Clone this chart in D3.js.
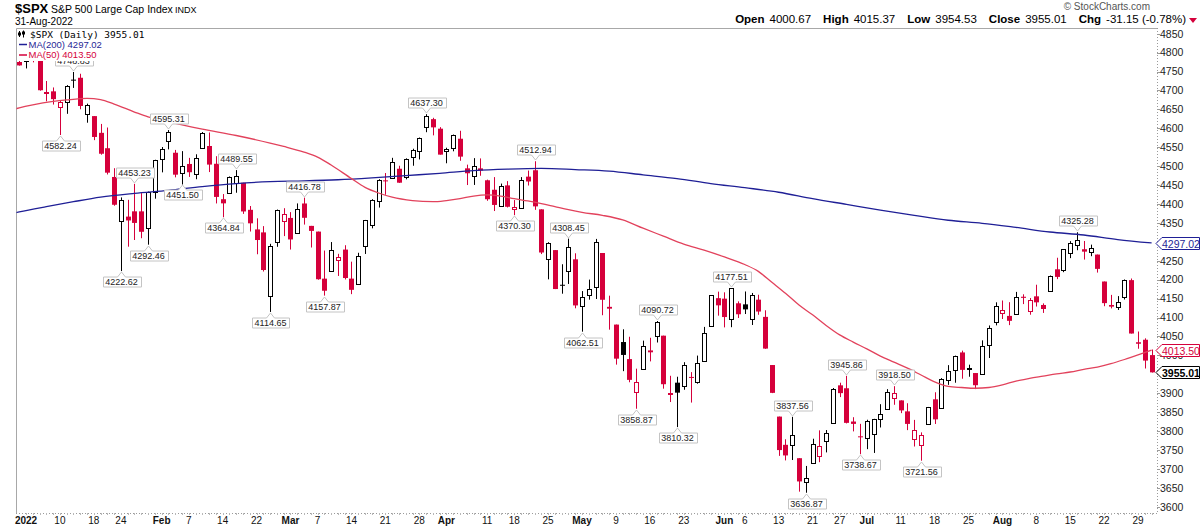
<!DOCTYPE html>
<html>
<head>
<meta charset="utf-8">
<script src="https://cdn.jsdelivr.net/npm/d3@7"></script>
<style>
  body { margin: 0; background: #fff; }
  svg text { font-family: Arial, "Liberation Sans", sans-serif; }
</style>
</head>
<body>
<div id="chart1"></div>
<script>
// trading days, Dec 30 2021 .. Aug 31 2022
const dates = [
  "2021-12-30","2021-12-31",
  "2022-01-03","2022-01-04","2022-01-05","2022-01-06","2022-01-07","2022-01-10","2022-01-11","2022-01-12","2022-01-13","2022-01-14",
  "2022-01-18","2022-01-19","2022-01-20","2022-01-21","2022-01-24","2022-01-25","2022-01-26","2022-01-27","2022-01-28","2022-01-31",
  "2022-02-01","2022-02-02","2022-02-03","2022-02-04","2022-02-07","2022-02-08","2022-02-09","2022-02-10","2022-02-11","2022-02-14",
  "2022-02-15","2022-02-16","2022-02-17","2022-02-18","2022-02-22","2022-02-23","2022-02-24","2022-02-25","2022-02-28",
  "2022-03-01","2022-03-02","2022-03-03","2022-03-04","2022-03-07","2022-03-08","2022-03-09","2022-03-10","2022-03-11","2022-03-14",
  "2022-03-15","2022-03-16","2022-03-17","2022-03-18","2022-03-21","2022-03-22","2022-03-23","2022-03-24","2022-03-25","2022-03-28",
  "2022-03-29","2022-03-30","2022-03-31",
  "2022-04-01","2022-04-04","2022-04-05","2022-04-06","2022-04-07","2022-04-08","2022-04-11","2022-04-12","2022-04-13","2022-04-14",
  "2022-04-18","2022-04-19","2022-04-20","2022-04-21","2022-04-22","2022-04-25","2022-04-26","2022-04-27","2022-04-28","2022-04-29",
  "2022-05-02","2022-05-03","2022-05-04","2022-05-05","2022-05-06","2022-05-09","2022-05-10","2022-05-11","2022-05-12","2022-05-13",
  "2022-05-16","2022-05-17","2022-05-18","2022-05-19","2022-05-20","2022-05-23","2022-05-24","2022-05-25","2022-05-26","2022-05-27",
  "2022-05-31",
  "2022-06-01","2022-06-02","2022-06-03","2022-06-06","2022-06-07","2022-06-08","2022-06-09","2022-06-10","2022-06-13","2022-06-14",
  "2022-06-15","2022-06-16","2022-06-17","2022-06-21","2022-06-22","2022-06-23","2022-06-24","2022-06-27","2022-06-28","2022-06-29",
  "2022-06-30",
  "2022-07-01","2022-07-05","2022-07-06","2022-07-07","2022-07-08","2022-07-11","2022-07-12","2022-07-13","2022-07-14","2022-07-15",
  "2022-07-18","2022-07-19","2022-07-20","2022-07-21","2022-07-22","2022-07-25","2022-07-26","2022-07-27","2022-07-28","2022-07-29",
  "2022-08-01","2022-08-02","2022-08-03","2022-08-04","2022-08-05","2022-08-08","2022-08-09","2022-08-10","2022-08-11","2022-08-12",
  "2022-08-15","2022-08-16","2022-08-17","2022-08-18","2022-08-19","2022-08-22","2022-08-23","2022-08-24","2022-08-25","2022-08-26",
  "2022-08-29","2022-08-30","2022-08-31"
];

const open = [
  4794.23,4775.21,
  4778.14,4804.51,4787.99,4693.39,4697.66,4655.34,4669.14,4728.59,4733.56,4637.99,
  4632.24,4588.03,4547.35,4471.38,4356.32,4366.64,4380.58,4380.50,4336.19,4431.79,
  4519.57,4566.39,4535.41,4482.79,4505.75,4480.02,4547.00,4553.24,4506.27,4412.61,
  4429.28,4455.75,4456.06,4384.57,4332.74,4324.93,4155.77,4298.38,4354.17,
  4363.14,4322.56,4401.31,4342.12,4327.01,4202.66,4223.10,4252.55,4279.50,4202.75,
  4188.82,4288.14,4345.11,4407.34,4462.40,4469.10,4493.10,4469.98,4522.91,4541.09,
  4602.86,4624.20,4599.02,
  4540.32,4547.97,4572.45,4494.17,4474.65,4494.15,4462.64,4437.59,4394.30,4449.12,
  4385.63,4390.63,4472.26,4489.17,4385.83,4255.34,4278.14,4186.52,4222.58,4253.75,
  4130.61,4159.78,4181.18,4270.43,4128.17,4081.27,4035.18,3990.08,3903.95,3963.90,
  4013.02,4052.00,4051.98,3899.00,3927.76,3919.42,3942.94,3929.59,3984.60,4077.43,
  4151.09,
  4149.78,4095.41,4137.57,4134.72,4096.47,4147.12,4101.65,3974.39,3838.15,3763.52,
  3764.05,3728.18,3665.90,3715.31,3733.89,3774.71,3821.75,3920.76,3913.00,3825.09,
  3785.99,
  3781.00,3792.61,3831.98,3858.85,3888.26,3880.94,3851.95,3779.67,3763.99,3818.00,
  3883.79,3860.73,3935.32,3959.96,4007.66,3965.72,3953.22,3951.43,4026.13,4087.33,
  4112.38,4104.21,4107.96,4154.85,4115.87,4155.93,4133.11,4170.36,4227.40,4225.02,
  4269.37,4290.46,4280.40,4273.13,4266.31,4195.08,4133.09,4126.55,4153.26,4198.74,
  4034.58,4041.25,4000.67
];

const high = [
  4808.93,4786.83,
  4796.64,4818.62,4797.70,4725.01,4707.95,4673.02,4714.13,4748.83,4744.13,4665.13,
  4632.24,4611.55,4602.11,4494.52,4417.35,4411.01,4453.23,4428.74,4432.72,4516.89,
  4550.49,4595.31,4542.88,4539.66,4521.86,4531.32,4590.03,4588.92,4526.33,4426.22,
  4472.77,4489.55,4456.06,4394.60,4362.12,4341.51,4294.73,4385.34,4388.84,
  4378.45,4401.48,4416.78,4342.12,4327.01,4276.94,4299.40,4268.28,4291.01,4247.57,
  4271.05,4357.86,4412.67,4465.40,4481.75,4522.00,4501.07,4520.58,4546.03,4575.65,
  4637.30,4627.77,4603.07,
  4548.70,4583.50,4593.45,4503.94,4521.16,4520.41,4464.35,4471.00,4453.92,4460.46,
  4410.31,4471.03,4488.29,4512.94,4385.83,4299.02,4278.14,4240.71,4308.45,4269.68,
  4169.81,4200.10,4307.66,4270.43,4157.69,4081.27,4068.82,4049.09,3964.80,4038.88,
  4046.46,4090.72,4051.98,3945.96,3943.42,3981.88,3955.68,3999.33,4075.14,4158.49,
  4168.34,
  4166.54,4177.51,4142.67,4168.78,4164.86,4160.14,4119.10,3974.39,3838.15,3778.18,
  3837.56,3728.18,3707.71,3779.65,3801.79,3802.58,3913.65,3927.72,3945.86,3836.50,
  3818.99,
  3829.82,3832.19,3870.91,3910.63,3918.50,3880.94,3873.41,3829.44,3796.41,3863.62,
  3902.44,3939.81,3974.13,3999.29,4012.44,3975.30,3953.22,4039.56,4078.95,4140.15,
  4144.95,4140.47,4167.66,4161.29,4151.58,4186.62,4137.30,4211.03,4257.91,4280.47,
  4301.79,4325.28,4302.18,4292.53,4266.31,4195.08,4159.77,4156.56,4200.54,4203.04,
  4062.99,4044.98,4015.37
];

const low = [
  4775.33,4765.75,
  4758.17,4774.27,4699.44,4671.26,4662.74,4582.24,4638.27,4706.71,4650.29,4614.75,
  4568.70,4530.20,4477.95,4395.34,4222.62,4287.11,4304.80,4309.50,4292.46,4414.02,
  4483.53,4544.32,4470.39,4451.50,4471.47,4465.40,4547.00,4484.31,4401.41,4364.84,
  4429.28,4429.68,4373.81,4327.22,4267.11,4221.51,4114.65,4286.83,4315.12,
  4279.54,4322.56,4345.56,4284.98,4199.85,4157.87,4223.10,4209.80,4200.49,4161.72,
  4187.90,4267.92,4335.65,4390.57,4424.30,4469.10,4455.81,4465.17,4501.07,4517.69,
  4589.66,4581.32,4530.41,
  4507.57,4539.21,4514.17,4450.04,4450.30,4474.60,4408.38,4381.34,4392.70,4390.77,
  4370.30,4390.63,4448.76,4384.47,4267.62,4200.82,4175.04,4162.90,4188.63,4124.28,
  4062.51,4147.08,4148.91,4106.01,4067.91,3975.48,3958.17,3928.82,3858.87,3963.90,
  3983.99,4033.93,3911.91,3876.58,3810.32,3909.04,3875.13,3925.03,3984.60,4077.43,
  4104.88,
  4073.85,4074.37,4098.67,4109.18,4080.19,4107.20,4017.17,3900.16,3734.30,3722.30,
  3723.34,3639.77,3636.87,3715.31,3717.69,3743.52,3821.75,3889.66,3820.14,3799.02,
  3738.67,
  3752.10,3742.06,3809.37,3858.85,3869.34,3847.22,3802.36,3759.07,3721.56,3817.18,
  3818.63,3860.73,3922.03,3927.64,3938.24,3943.46,3910.74,3951.43,3992.97,4079.22,
  4096.02,4079.81,4107.96,4135.42,4107.31,4128.97,4112.09,4167.89,4201.41,4219.78,
  4256.90,4277.77,4253.08,4261.98,4218.70,4129.86,4124.03,4119.97,4147.59,4057.66,
  4017.42,3965.21,3954.53
];

const close = [
  4778.73,4766.18,
  4796.56,4793.54,4700.58,4696.05,4677.03,4670.29,4713.07,4726.35,4659.03,4662.85,
  4577.11,4532.76,4482.73,4397.94,4410.13,4356.45,4349.93,4326.51,4431.85,4515.55,
  4546.54,4589.38,4477.44,4500.53,4483.87,4521.54,4587.18,4504.08,4418.64,4401.67,
  4471.07,4475.01,4380.26,4348.87,4304.76,4225.50,4288.70,4384.65,4373.94,
  4306.26,4386.54,4363.49,4328.87,4201.09,4170.70,4277.88,4259.52,4204.31,4173.11,
  4262.45,4357.86,4411.67,4463.12,4461.18,4511.61,4456.24,4520.16,4543.06,4575.52,
  4631.60,4602.45,4530.41,
  4545.86,4582.64,4525.12,4481.15,4500.21,4488.28,4412.53,4397.45,4446.59,4392.59,
  4391.69,4462.21,4459.45,4393.66,4271.78,4296.12,4175.20,4183.96,4287.50,4131.93,
  4155.38,4175.48,4300.17,4146.87,4123.34,3991.24,4001.05,3935.18,3930.08,4023.89,
  4008.01,4088.85,3923.68,3900.79,3901.36,3973.75,3941.48,3978.73,4057.84,4158.24,
  4132.15,
  4101.23,4176.82,4108.54,4121.43,4160.68,4115.77,4017.82,3900.86,3749.63,3735.48,
  3789.99,3666.77,3674.84,3764.79,3759.89,3795.73,3911.74,3900.11,3821.55,3818.83,
  3785.38,
  3825.33,3831.39,3845.08,3902.62,3899.38,3854.43,3818.80,3801.78,3790.38,3863.16,
  3830.85,3936.69,3959.90,3998.95,3961.63,3966.84,3921.05,4023.61,4072.43,4130.29,
  4118.63,4091.19,4155.17,4151.94,4145.19,4140.06,4122.47,4210.24,4207.27,4280.15,
  4297.14,4305.20,4274.04,4283.74,4228.48,4137.99,4128.73,4140.77,4199.12,4057.66,
  4030.61,3986.16,3955.01
];

// moving averages
const ma50Dates = ["2021-12-30","2021-12-31","2022-01-04","2022-01-07","2022-01-11","2022-01-14","2022-01-19","2022-01-21",
  "2022-01-26","2022-01-28","2022-02-02","2022-02-09","2022-02-16","2022-02-24","2022-02-28","2022-03-03","2022-03-07",
  "2022-03-09","2022-03-14","2022-03-16","2022-03-18","2022-03-22","2022-03-25","2022-03-30","2022-04-01","2022-04-05",
  "2022-04-07","2022-04-11","2022-04-13","2022-04-18","2022-04-20","2022-04-22","2022-04-26","2022-04-28","2022-05-02",
  "2022-05-05","2022-05-10","2022-05-13","2022-05-18","2022-05-23","2022-05-26","2022-06-01","2022-06-06","2022-06-08",
  "2022-06-10","2022-06-14","2022-06-16","2022-06-21","2022-06-23","2022-06-27","2022-06-29","2022-07-01","2022-07-06",
  "2022-07-08","2022-07-12","2022-07-14","2022-07-18","2022-07-20","2022-07-22","2022-07-26","2022-07-28","2022-08-01",
  "2022-08-03","2022-08-05","2022-08-09","2022-08-11","2022-08-15","2022-08-17","2022-08-19","2022-08-23","2022-08-25",
  "2022-08-29","2022-08-31"];
const ma50 = [4649,4654,4662,4671,4675,4679,4676,4664,
  4643,4630,4617,4598,4581,4561,4552,4537,4524,
  4503,4467,4444,4429,4418,4409,4406,4409,4414,
  4421,4424,4421,4414,4408,4401,4393,4385,4378,
  4370,4358,4336,4315,4294,4278,4260,4240,4222,
  4193,4164,4133,4107,4079,4054,4035,4017,3998,
  3982,3966,3948,3930,3918,3915,3913,3915,3922,
  3932,3939,3945,3951,3956,3963,3969,3978,3989,
  4001,4013.50];

const ma200Dates = ["2021-12-30","2021-12-31","2022-01-06","2022-01-12","2022-01-19","2022-01-26","2022-02-02","2022-02-09",
  "2022-02-16","2022-02-24","2022-03-03","2022-03-10","2022-03-17","2022-03-24","2022-03-31","2022-04-07","2022-04-14",
  "2022-04-22","2022-04-29","2022-05-06","2022-05-13","2022-05-20","2022-05-27","2022-06-06","2022-06-13","2022-06-21",
  "2022-06-28","2022-07-06","2022-07-13","2022-07-20","2022-07-27","2022-08-03","2022-08-10","2022-08-17","2022-08-24",
  "2022-08-31"];
const ma200 = [4375,4379,4393,4406,4418,4428,4436,4446,
  4454,4459,4461,4464,4469,4475,4481,4488,4492,
  4494,4491,4487,4477,4467,4454,4443,4431,4414,
  4399,4384,4370,4357,4349,4338,4326,4318,4306,
  4297.02];

const yTicks = [4850,4800,4750,4700,4650,4600,4550,4500,4450,4400,4350,4300,4250,4200,4150,4100,4050,4000,3950,3900,3850,3800,3750,3700,3650,3600];

const xTickDates = ["2022-01-03","2022-01-10","2022-01-18","2022-01-24","2022-02-01","2022-02-07","2022-02-14","2022-02-22",
  "2022-03-01","2022-03-07","2022-03-14","2022-03-21","2022-03-28","2022-04-01","2022-04-11","2022-04-18","2022-04-25",
  "2022-05-02","2022-05-09","2022-05-16","2022-05-23","2022-06-01","2022-06-06","2022-06-13","2022-06-21","2022-06-27",
  "2022-07-01","2022-07-11","2022-07-18","2022-07-25","2022-08-01","2022-08-08","2022-08-15","2022-08-22","2022-08-29"];
const xTickLabels = ["2022","10","18","24","Feb","7","14","22",
  "Mar","7","14","21","28","Apr","11","18","25",
  "May","9","16","23","Jun","6","13","21","27",
  "Jul","11","18","25","Aug","8","15","22","29"];

// annotated swing highs / lows
const noteDates = ["2022-01-10","2022-01-12","2022-01-24","2022-01-26","2022-01-28","2022-02-02","2022-02-04","2022-02-14",
  "2022-02-16","2022-02-24","2022-03-03","2022-03-08","2022-03-29","2022-04-18","2022-04-21","2022-04-28","2022-05-02",
  "2022-05-12","2022-05-17","2022-05-20","2022-06-02","2022-06-15","2022-06-17","2022-06-28","2022-06-30","2022-07-08",
  "2022-07-14","2022-08-16"];
const noteSides = ["L","H","L","H","L","H","L","L",
  "H","L","H","L","H","L","H","H","L",
  "L","H","L","H","H","L","H","L","H",
  "L","H"];

const width = 1200;
const height = 528;
const plot = {left: 16, right: 1157, top: 28, bottom: 513};
const red = "#d5003b";
const blue = "#1f1f96";
const maRed = "#e2425c";

const svg = d3.select("#chart1").append("svg")
    .attr("width", width)
    .attr("height", height);

const x = d3.scalePoint()
    .domain(dates)
    .range([12.44, 1151.6]);

const y = d3.scaleLinear()
    .domain([3600, 4850])
    .range([506.7, 33.7]);

svg.append("defs").append("clipPath")
    .attr("id", "clip")
  .append("rect")
    .attr("x", plot.left + 0.5)
    .attr("y", plot.top + 0.5)
    .attr("width", plot.right - plot.left - 1)
    .attr("height", plot.bottom - plot.top - 0.5);

// frame
svg.append("path")
    .attr("d", `M${plot.left + 0.5},${plot.bottom} V${plot.top + 0.5} H${plot.right}`)
    .attr("fill", "none")
    .attr("stroke", "#a8a8a8");

// last-value tags on the right axis (also used to hide covered tick labels)
const last = dates.length - 1;
const tags = [
  {v: ma200[ma200.length - 1], col: blue, bold: false},
  {v: ma50[ma50.length - 1], col: red, bold: false},
  {v: close[last], col: "#000", bold: true}
];

// right axis: dotted line, ticks, labels
svg.append("line")
    .attr("x1", plot.right + 0.5).attr("x2", plot.right + 0.5)
    .attr("y1", plot.top).attr("y2", plot.bottom)
    .attr("stroke", "#9a9a9a")
    .attr("stroke-dasharray", "1,2");
const yAxis = svg.append("g");
yAxis.selectAll("line").data(yTicks).join("line")
    .attr("x1", plot.right).attr("x2", plot.right + 3)
    .attr("y1", d => Math.round(y(d)) + 0.5).attr("y2", d => Math.round(y(d)) + 0.5)
    .attr("stroke", "#9a9a9a");
yAxis.selectAll("text")
    .data(yTicks.filter(d => !tags.some(tg => Math.abs(y(tg.v) - y(d)) < 4)))
    .join("text")
    .attr("x", plot.right + 3)
    .attr("y", d => y(d) + 3.8)
    .attr("font-size", "10.5px")
    .attr("fill", "#222")
    .text(d => d);

// bottom axis
svg.append("line")
    .attr("x1", plot.left).attr("x2", plot.right)
    .attr("y1", plot.bottom + 0.5).attr("y2", plot.bottom + 0.5)
    .attr("stroke", "#9a9a9a")
    .attr("stroke-dasharray", "1,2");
svg.append("g").selectAll("line").data(dates.slice(2)).join("line")
    .attr("x1", d => Math.round(x(d)) + 0.5).attr("x2", d => Math.round(x(d)) + 0.5)
    .attr("y1", plot.bottom).attr("y2", plot.bottom + 2)
    .attr("stroke", "#b8b8b8");
svg.append("g").selectAll("text").data(xTickDates).join("text")
    .attr("x", d => x(d))
    .attr("y", 524)
    .attr("text-anchor", "middle")
    .attr("font-size", "10px")
    .attr("font-weight", (d, i) => isNaN(+xTickLabels[i]) || xTickLabels[i] === "2022" ? "bold" : "normal")
    .attr("fill", "#111")
    .text((d, i) => xTickLabels[i]);

// candles
const candles = svg.append("g").attr("clip-path", "url(#clip)");
dates.forEach((d, i) => {
  const c = Math.round(x(d)) + 0.5;
  const prev = i > 0 ? close[i - 1] : open[i];
  const col = close[i] >= prev ? "#000" : red;
  const hollow = close[i] > open[i];
  candles.append("line")
      .attr("x1", c).attr("x2", c)
      .attr("y1", y(high[i])).attr("y2", y(low[i]))
      .attr("stroke", col);
  const t = y(Math.max(open[i], close[i]));
  const b = y(Math.min(open[i], close[i]));
  if (hollow) {
    candles.append("rect")
        .attr("x", c - 2).attr("y", Math.round(t) + 0.5)
        .attr("width", 4).attr("height", Math.max(1, Math.round(b) - Math.round(t)))
        .attr("fill", "#fff").attr("stroke", col);
  } else {
    candles.append("rect")
        .attr("x", c - 2.5).attr("y", t)
        .attr("width", 5).attr("height", Math.max(1, b - t))
        .attr("fill", col);
  }
});

// moving average lines
const maLine = d3.line()
    .x(d => x(d[0]))
    .y(d => y(d[1]))
    .curve(d3.curveMonotoneX);
const maG = svg.append("g").attr("clip-path", "url(#clip)");
maG.append("path")
    .datum(d3.zip(ma200Dates, ma200))
    .attr("fill", "none").attr("stroke", blue).attr("stroke-width", 1.3)
    .attr("d", maLine);
maG.append("path")
    .datum(d3.zip(ma50Dates, ma50))
    .attr("fill", "none").attr("stroke", maRed).attr("stroke-width", 1.3)
    .attr("d", maLine);

// value call-outs
const notes = svg.append("g");
noteDates.forEach((d, k) => {
  const i = dates.indexOf(d);
  const isHigh = noteSides[k] === "H";
  const v = isHigh ? high[i] : low[i];
  const cx = Math.round(x(d)) + 0.5;
  const tip = Math.round(y(v)) + (isHigh ? -1 : 1);
  const t = notes.append("text")
      .attr("font-size", "9px")
      .attr("fill", "#222")
      .attr("text-anchor", "middle")
      .text(v.toFixed(2));
  const w = t.node().getComputedTextLength() + 5;
  const h = 10;
  const x0 = Math.round(cx - w / 2) + 0.5, x1 = x0 + Math.round(w);
  let p;
  if (isHigh) {
    const y1 = tip - 5, y0 = y1 - h;
    p = `M${x0},${y0} H${x1} V${y1} H${cx + 4} L${cx},${tip} L${cx - 4},${y1} H${x0} Z`;
    t.attr("x", cx).attr("y", y1 - 2);
  } else {
    const y0 = tip + 5, y1 = y0 + h;
    p = `M${x0},${y0} H${cx - 4} L${cx},${tip} L${cx + 4},${y0} H${x1} V${y1} H${x0} Z`;
    t.attr("x", cx).attr("y", y1 - 2);
  }
  notes.insert("path", "text")
      .attr("d", p)
      .attr("fill", "#fff")
      .attr("stroke", "#c4c4c4");
});

tags.forEach(tg => {
  const yc = Math.round(y(tg.v)) + 0.5;
  svg.append("path")
      .attr("d", `M${plot.right - 1},${yc} L${plot.right + 5},${yc - 6} H1199.5 V${yc + 6} H${plot.right + 5} Z`)
      .attr("fill", "#fff")
      .attr("stroke", tg.col);
  svg.append("text")
      .attr("x", plot.right + 5)
      .attr("y", yc + 4)
      .attr("font-size", "10.5px")
      .attr("font-weight", tg.bold ? "bold" : "normal")
      .attr("fill", tg.col)
      .text(tg.v.toFixed(2));
});

// legend
const lg = svg.append("g");
lg.append("rect")
    .attr("x", plot.left + 1).attr("y", plot.top + 1)
    .attr("width", 134).attr("height", 32)
    .attr("fill", "#fff");
// little candle icon
[[19, 31, 37, 32.5, 35.5], [23, 30.5, 37.5, 31.5, 34.5]].forEach(c => {
  lg.append("line").attr("x1", c[0] + 0.5).attr("x2", c[0] + 0.5).attr("y1", c[1]).attr("y2", c[2]).attr("stroke", "#000");
  lg.append("rect").attr("x", c[0] - 1).attr("y", c[3]).attr("width", 3).attr("height", c[4] - c[3]).attr("fill", "#000");
});
lg.append("text")
    .attr("x", 30).attr("y", 37.5)
    .attr("font-size", "9.5px")
    .style("font-family", "'DejaVu Sans Mono', monospace")
    .attr("fill", "#000")
    .text("$SPX (Daily) " + close[last].toFixed(2));
lg.append("line").attr("x1", 19).attr("x2", 27).attr("y1", 44.5).attr("y2", 44.5).attr("stroke", blue).attr("stroke-width", 1.5);
lg.append("text")
    .attr("x", 28.5).attr("y", 47.5)
    .attr("font-size", "9.5px")
    .attr("fill", blue)
    .text("MA(200) " + ma200[ma200.length - 1].toFixed(2));
lg.append("line").attr("x1", 19).attr("x2", 27).attr("y1", 55).attr("y2", 55).attr("stroke", red).attr("stroke-width", 1.5);
lg.append("text")
    .attr("x", 28.5).attr("y", 58)
    .attr("font-size", "9.5px")
    .attr("fill", red)
    .text("MA(50) " + ma50[ma50.length - 1].toFixed(2));

// header
const hd = svg.append("g");
hd.append("text").attr("x", 15).attr("y", 13)
    .attr("font-size", "13px").attr("font-weight", "bold").attr("fill", "#000")
    .text("$SPX");
hd.append("text").attr("x", 51).attr("y", 13)
    .attr("font-size", "10.5px").attr("fill", "#000")
    .text("S&P 500 Large Cap Index");
hd.append("text").attr("x", 175).attr("y", 13)
    .attr("font-size", "9px").attr("fill", "#000")
    .text("INDX");
hd.append("text").attr("x", 15).attr("y", 25)
    .attr("font-size", "10px").attr("fill", "#000")
    .text("31-Aug-2022");
hd.append("text").attr("x", 1150).attr("y", 10)
    .attr("text-anchor", "end")
    .attr("font-size", "10px").attr("fill", "#555")
    .text("\u00A9 StockCharts.com");

const chg = close[last] - close[last - 1];
const quote = [
  ["Open", open[last].toFixed(2)],
  ["High", high[last].toFixed(2)],
  ["Low", low[last].toFixed(2)],
  ["Close", close[last].toFixed(2)],
  ["Chg", chg.toFixed(2) + " (" + (chg / close[last - 1] * 100).toFixed(2) + "%)"]
];
const q = hd.append("text").attr("x", 1186).attr("y", 23)
    .attr("text-anchor", "end")
    .attr("font-size", "11.5px").attr("fill", "#000");
quote.forEach((p, i) => {
  q.append("tspan").attr("font-weight", "bold").attr("dx", i ? 12 : 0).text(p[0]);
  q.append("tspan").attr("dx", 5).text(p[1]);
});
hd.append("path")
    .attr("d", "M1189,18 H1197 L1193,23 Z")
    .attr("fill", red);
</script>
</body>
</html>
